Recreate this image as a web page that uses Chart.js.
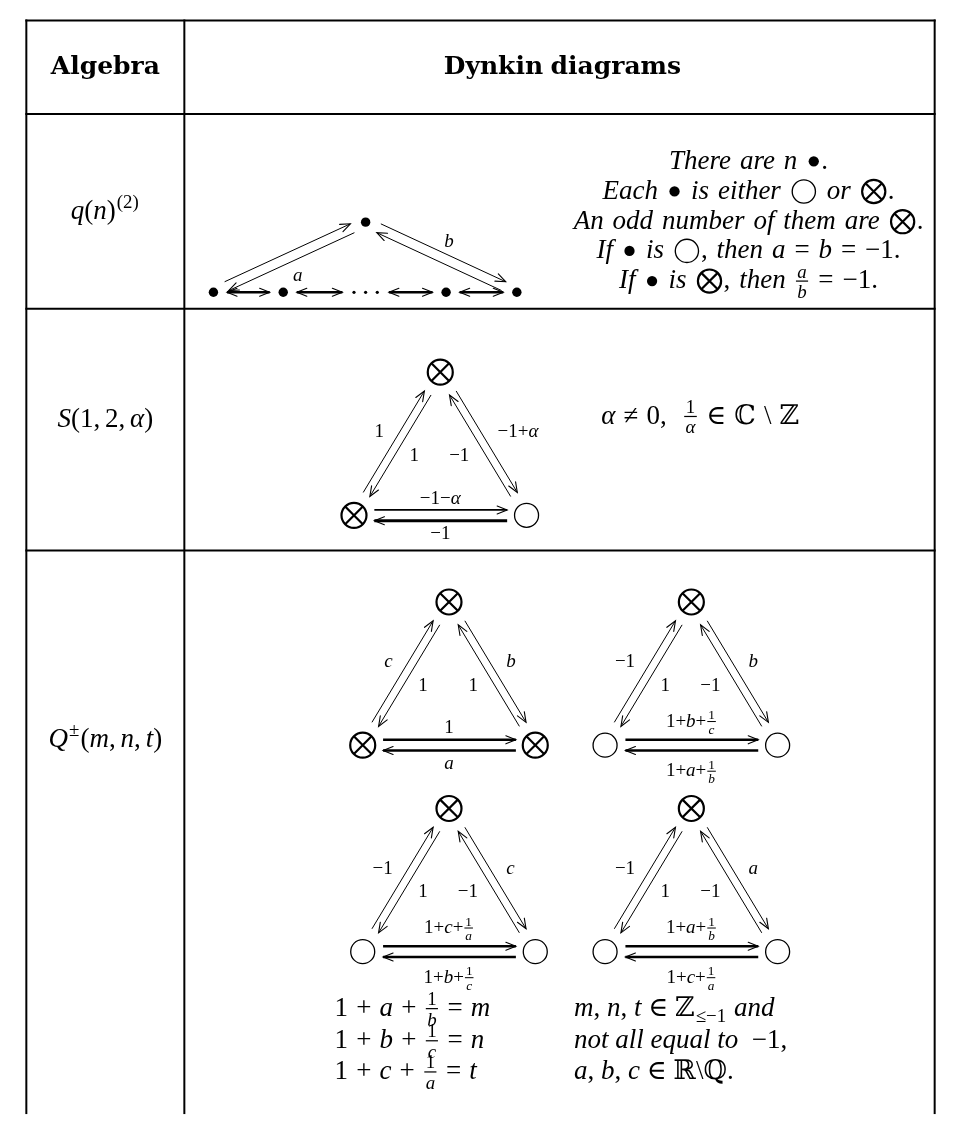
<!DOCTYPE html>
<html>
<head>
<meta charset="utf-8">
<title>Dynkin diagrams</title>
<script src="https://cdn.jsdelivr.net/npm/chart.js@4.4.1/dist/chart.umd.min.js"></script>
<style>
  html, body { margin: 0; padding: 0; background: #fff; }
  .wrap { width: 961px; height: 1129px; }
</style>
</head>
<body>
<div class="wrap"><canvas id="table"></canvas></div>
<script>
// ---- what the table says ----
const headers = ['Algebra', 'Dynkin diagrams'];

const DOT = { sym: 'dot' };
const CIRC = { sym: 'circ' };
const OTIMES = { sym: 'otimes' };

const algebras = [
  ['q(n)', { sup: '(2)' }],
  ['S(1, 2, α)'],
  ['Q', { sup: '±' }, '(m, n, t)'],
];

// q(n)^(2): a chain of bullets with one bullet on top
const chainKinds = ['dot', 'dot', 'dots', 'dot', 'dot'];
const chainLabels = ['a', 'b'];
const chainNotes = [
  ['There are n ', DOT, '.'],
  ['Each ', DOT, ' is either ', CIRC, ' or ', OTIMES, '.'],
  ['An odd number of them are ', OTIMES, '.'],
  ['If ', DOT, ' is ', CIRC, ', then a = b = −1.'],
  ['If ', DOT, ' is ', OTIMES, ', then ', { frac: ['a', 'b'] }, ' = −1.'],
];

// triangle nodes: top, bottom-left, bottom-right  ('x' = ⊗, 'o' = ○)
// edge labels: left outer, left inner, right inner, right outer, bottom upper, bottom lower
const sNodes = ['x', 'x', 'o'];
const sEdges = ['1', '1', '−1', '−1+α', '−1−α', '−1'];
const sNote = ['α ≠ 0,  ', { frac: ['1', 'α'] }, ' ∈ ℂ \\ ℤ'];

const qNodes = [
  ['x', 'x', 'x'],
  ['x', 'o', 'o'],
  ['x', 'o', 'o'],
  ['x', 'o', 'o'],
];
const qEdges = [
  ['c', '1', '1', 'b', '1', 'a'],
  ['−1', '1', '−1', 'b', ['1+b+', { frac: ['1', 'c'] }], ['1+a+', { frac: ['1', 'b'] }]],
  ['−1', '1', '−1', 'c', ['1+c+', { frac: ['1', 'a'] }], ['1+b+', { frac: ['1', 'c'] }]],
  ['−1', '1', '−1', 'a', ['1+a+', { frac: ['1', 'b'] }], ['1+c+', { frac: ['1', 'a'] }]],
];
const qEquations = [
  ['1 + a + ', { frac: ['1', 'b'] }, ' = m'],
  ['1 + b + ', { frac: ['1', 'c'] }, ' = n'],
  ['1 + c + ', { frac: ['1', 'a'] }, ' = t'],
];
const qConditions = [
  ['m, n, t ∈ ℤ', { sub: '≤−1' }, ' and'],
  ['not all equal to  −1,'],
  ['a, b, c ∈ ℝ\\ℚ.'],
];

// ---- where things go ----
const layout = {
  ruleX: [12, 175, 949],
  ruleY: [6, 102, 302, 550],
  ruleBottom: 1129,
  headX: [93.5, 565],
  headY: 61,
  nameX: 93.5,
  nameY: [210, 423, 752],
  chainX: [205, 277, 362, 445, 518],
  chainY: 285,
  apex: [362, 213],
  chainLabelAt: [[292, 273], [448, 239]],
  notesX: 757,
  notesY: [158, 189, 220, 250, 281],
  sTop: [439, 367],
  sNoteAt: [605, 420],
  qTops: [[448, 603], [698, 603], [448, 815], [698, 815]],
  eqX: 330,
  condX: 577,
  eqY: [1028, 1061, 1093],
  halfW: 89,
  height: 147,
};

const lineSets = [];
const crossPts = [], ringPts = [], dotPts = [], tinyPts = [];
const labels = [];

function seg(a, b, width, head) {
  lineSets.push({
    data: [{ x: a[0], y: a[1] }, { x: b[0], y: b[1] }],
    showLine: true, borderColor: '#000', borderWidth: width,
    pointRadius: 0, pointHoverRadius: 0, head: head, order: 3,
  });
}

// two opposite arrows along P -> Q; the outer one points at Q
function pair(P, Q, d, g, w) {
  const dx = Q[0] - P[0], dy = Q[1] - P[1], len = Math.hypot(dx, dy);
  const ux = dx / len, uy = dy / len, nx = uy, ny = -ux;
  seg([P[0] + g * ux + d * nx, P[1] + g * uy + d * ny], [Q[0] - g * ux + d * nx, Q[1] - g * uy + d * ny], w, 'end');
  seg([Q[0] - g * ux - d * nx, Q[1] - g * uy - d * ny], [P[0] + g * ux - d * nx, P[1] + g * uy - d * ny], w, 'end');
}

function label(parts, x, y, o) {
  labels.push(Object.assign({ parts: Array.isArray(parts) ? parts : [parts], x, y, size: 27, space: 0.3, align: 'center' }, o || {}));
}

// table rules
layout.ruleX.forEach(x => seg([x, layout.ruleY[0] - 1], [x, layout.ruleBottom], 2));
layout.ruleY.forEach(y => seg([layout.ruleX[0] - 1, y], [layout.ruleX[2] + 1, y], 2));

const headFont = { bold: true, upright: true, fam: '"DejaVu Serif", serif', size: 25 };
headers.forEach((h, i) => label(h, layout.headX[i], layout.headY, headFont));
algebras.forEach((a, i) => label(a, layout.nameX, layout.nameY[i], { space: 0.18 }));

// row 1: the chain
const cy = layout.chainY;
chainKinds.forEach((k, i) => {
  const x = layout.chainX[i];
  if (k === 'dot') dotPts.push([x, cy]);
  else [-12, 0, 12].forEach(o => tinyPts.push([x + o, cy]));
});
dotPts.push(layout.apex);
for (let i = 0; i < chainKinds.length - 1; i++) {
  const g0 = chainKinds[i] === 'dot' ? 14 : 24;
  const g1 = chainKinds[i + 1] === 'dot' ? 14 : 24;
  seg([layout.chainX[i] + g0, cy], [layout.chainX[i + 1] - g1, cy], 2.6, 'both');
}
const first = [layout.chainX[0], cy], last = [layout.chainX[layout.chainX.length - 1], cy];
pair(first, layout.apex, 5, 15, 1);
pair(layout.apex, last, 5, 15, 1);
chainLabels.forEach((t, i) => label(t, layout.chainLabelAt[i][0], layout.chainLabelAt[i][1], { size: 19 }));
chainNotes.forEach((n, i) => label(n, layout.notesX, layout.notesY[i], { space: 0.33 }));

// rows 2 and 3: triangles
function triangle(top, kinds, edges, widths) {
  const cx = top[0], ty = top[1], hw = layout.halfW, h = layout.height;
  const pts = [[cx, ty], [cx - hw, ty + h], [cx + hw, ty + h]];
  kinds.forEach((k, i) => (k === 'x' ? crossPts : ringPts).push(pts[i]));
  pair(pts[1], pts[0], 4, 25, 1);
  pair(pts[0], pts[2], 4, 25, 1);
  const yb = ty + h;
  seg([cx - hw + 21, yb - 5.5], [cx + hw - 20, yb - 5.5], widths[0], 'end');
  seg([cx + hw - 20, yb + 5.5], [cx - hw + 21, yb + 5.5], widths[1], 'end');
  const small = { size: 19, space: 0 };
  const hasFrac = e => Array.isArray(e);
  label(edges[0], cx - 58, ty + 67, Object.assign({ align: 'right' }, small));
  label(edges[1], cx - 22, ty + 91, Object.assign({ align: 'right' }, small));
  label(edges[2], cx + 30, ty + 91, Object.assign({ align: 'right' }, small));
  label(edges[3], cx + 59, ty + 67, Object.assign({ align: 'left' }, small));
  label(edges[4], cx, ty + (hasFrac(edges[4]) ? 128 : 135), small);
  label(edges[5], cx, ty + (hasFrac(edges[5]) ? 179 : 171), small);
}

triangle(layout.sTop, sNodes, sEdges, [1.8, 3]);
label(sNote, layout.sNoteAt[0], layout.sNoteAt[1], { align: 'left', space: 0.3 });

qNodes.forEach((kinds, i) => triangle(layout.qTops[i], kinds, qEdges[i], [2.6, 2.6]));
qEquations.forEach((e, i) => label(e, layout.eqX, layout.eqY[i], { align: 'left', space: 0.3 }));
qConditions.forEach((c, i) => label(c, layout.condX, layout.eqY[i], { align: 'left', space: 0.25 }));

// ---- text drawing ----
function fontFor(size, it, bold, fam) {
  return (it ? 'italic ' : '') + (bold ? 'bold ' : '') + size.toFixed(1) + 'px ' + (fam || '"Liberation Serif", "DejaVu Serif", serif');
}

function splitRuns(str, upright) {
  const runs = [];
  for (const ch of str) {
    const sp = ch === ' ';
    const it = !sp && !upright && /[A-Za-zα]/.test(ch);
    const lastRun = runs[runs.length - 1];
    if (lastRun && lastRun.sp === sp && lastRun.it === it) lastRun.s += ch;
    else runs.push({ s: ch, it, sp });
  }
  return runs;
}

function runText(ctx, str, x, y, o, draw) {
  let w = 0;
  for (const r of splitRuns(str, o.upright)) {
    if (r.sp) {
      if (o.space > 0) { w += o.space * o.size * r.s.length; continue; }
      ctx.font = fontFor(o.size, false, o.bold, o.fam);
      w += ctx.measureText(r.s).width;
      continue;
    }
    ctx.font = fontFor(o.size, r.it, o.bold, o.fam);
    if (draw) ctx.fillText(r.s, x + w, y);
    w += ctx.measureText(r.s).width;
  }
  return w;
}

function symbol(ctx, kind, x, y, size, draw) {
  const r = kind === 'dot' ? 0.19 * size : 0.43 * size;
  const pad = 0.09 * size;
  if (draw) {
    const cx = x + pad + r, cyy = y - 0.27 * size;
    ctx.beginPath();
    ctx.arc(cx, cyy, r, 0, Math.PI * 2);
    if (kind === 'dot') ctx.fill();
    else {
      ctx.lineWidth = kind === 'otimes' ? 0.08 * size : 0.05 * size;
      ctx.stroke();
    }
    if (kind === 'otimes') {
      const k = r * Math.SQRT1_2;
      ctx.beginPath();
      ctx.moveTo(cx - k, cyy - k); ctx.lineTo(cx + k, cyy + k);
      ctx.moveTo(cx + k, cyy - k); ctx.lineTo(cx - k, cyy + k);
      ctx.stroke();
    }
  }
  return 2 * r + 2 * pad;
}

function richParts(ctx, parts, x, y, o, draw) {
  let w = 0;
  for (const p of parts) {
    if (typeof p === 'string') w += runText(ctx, p, x + w, y, o, draw);
    else if (p.sym) w += symbol(ctx, p.sym, x + w, y, o.size, draw);
    else if (p.sup) w += runText(ctx, p.sup, x + w + 1, y - o.size * 0.42, Object.assign({}, o, { size: o.size * 0.7 }), draw) + 2;
    else if (p.sub) w += runText(ctx, p.sub, x + w + 1, y + o.size * 0.24, Object.assign({}, o, { size: o.size * 0.7 }), draw) + 2;
    else if (p.frac) {
      const so = Object.assign({}, o, { size: o.size * 0.7 });
      const nw = runText(ctx, p.frac[0], 0, 0, so, false);
      const dw = runText(ctx, p.frac[1], 0, 0, so, false);
      const fw = Math.max(nw, dw) + o.size * 0.1;
      const x0 = x + w + o.size * 0.05;
      if (draw) {
        runText(ctx, p.frac[0], x0 + (fw - nw) / 2, y - o.size * 0.4, so, true);
        runText(ctx, p.frac[1], x0 + (fw - dw) / 2, y + o.size * 0.36, so, true);
        const t = Math.max(1, o.size * 0.045);
        ctx.fillRect(x0, y - o.size * 0.27 - t / 2, fw, t);
      }
      w += fw + o.size * 0.1;
    }
  }
  return w;
}

const texts = {
  id: 'texts',
  afterDatasetsDraw(chart) {
    const ctx = chart.ctx, xs = chart.scales.x, ys = chart.scales.y;
    ctx.save();
    ctx.fillStyle = '#000';
    ctx.strokeStyle = '#000';
    ctx.textAlign = 'left';
    ctx.textBaseline = 'alphabetic';
    for (const L of labels) {
      const px = xs.getPixelForValue(L.x), py = ys.getPixelForValue(L.y);
      const w = richParts(ctx, L.parts, 0, 0, L, false);
      const x0 = L.align === 'center' ? px - w / 2 : L.align === 'right' ? px - w : px;
      richParts(ctx, L.parts, x0, py, L, true);
    }
    ctx.restore();
  }
};

function arrowHead(ctx, from, tip) {
  const dx = tip.x - from.x, dy = tip.y - from.y, len = Math.hypot(dx, dy);
  const ux = dx / len, uy = dy / len, L = 10, Wd = 4;
  ctx.beginPath();
  ctx.moveTo(tip.x - L * ux - Wd * uy, tip.y - L * uy + Wd * ux);
  ctx.lineTo(tip.x, tip.y);
  ctx.lineTo(tip.x - L * ux + Wd * uy, tip.y - L * uy - Wd * ux);
  ctx.stroke();
}

const arrowHeads = {
  id: 'arrowHeads',
  afterDatasetsDraw(chart) {
    const ctx = chart.ctx;
    ctx.save();
    ctx.strokeStyle = '#000';
    ctx.lineWidth = 1.1;
    ctx.lineCap = 'round';
    chart.data.datasets.forEach((ds, i) => {
      if (!ds.head) return;
      const pts = chart.getDatasetMeta(i).data;
      if (ds.head === 'end' || ds.head === 'both') arrowHead(ctx, pts[0], pts[1]);
      if (ds.head === 'start' || ds.head === 'both') arrowHead(ctx, pts[1], pts[0]);
    });
    ctx.restore();
  }
};

const asPoints = list => list.map(p => ({ x: p[0], y: p[1] }));

const nodeSets = [
  { data: asPoints(crossPts), pointStyle: 'crossRot', pointRadius: 12.5, pointBorderWidth: 2.2, pointBorderColor: '#000', pointBackgroundColor: 'rgba(0,0,0,0)', order: 0 },
  { data: asPoints(crossPts), pointStyle: 'circle', pointRadius: 12.5, pointBorderWidth: 2.2, pointBorderColor: '#000', pointBackgroundColor: 'rgba(0,0,0,0)', order: 1 },
  { data: asPoints(ringPts), pointStyle: 'circle', pointRadius: 12, pointBorderWidth: 1.3, pointBorderColor: '#000', pointBackgroundColor: 'rgba(0,0,0,0)', order: 1 },
  { data: asPoints(dotPts), pointStyle: 'circle', pointRadius: 4.7, pointBorderWidth: 0, pointBackgroundColor: '#000', order: 1 },
  { data: asPoints(tinyPts), pointStyle: 'circle', pointRadius: 1.6, pointBorderWidth: 0, pointBackgroundColor: '#000', order: 1 },
];

new Chart(document.getElementById('table'), {
  type: 'scatter',
  data: { datasets: nodeSets.concat(lineSets) },
  options: {
    responsive: true,
    maintainAspectRatio: false,
    animation: false,
    events: [],
    layout: { padding: 0 },
    plugins: { legend: { display: false }, tooltip: { enabled: false } },
    scales: {
      x: { type: 'linear', min: 0, max: 961, display: false },
      y: { type: 'linear', min: 0, max: 1129, reverse: true, display: false },
    },
  },
  plugins: [arrowHeads, texts],
});
</script>
</body>
</html>
